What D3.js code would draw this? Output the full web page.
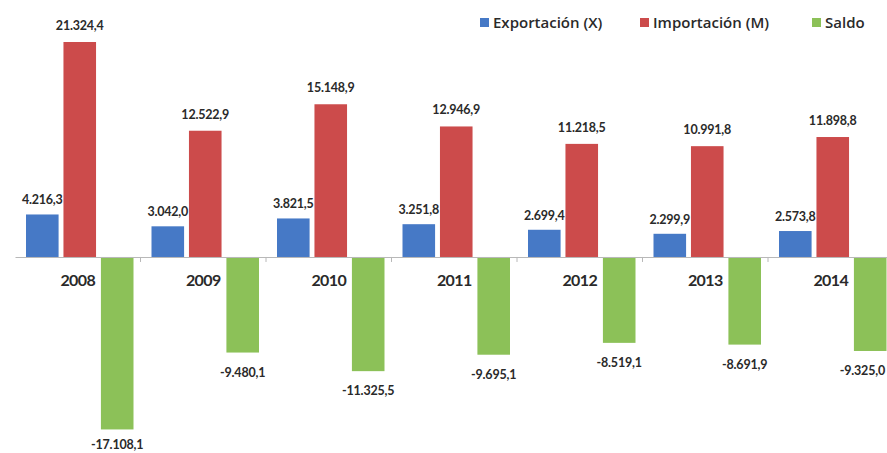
<!DOCTYPE html>
<html>
<head>
<meta charset="utf-8">
<script src="https://cdn.jsdelivr.net/npm/d3@7"></script>
<style>
  html, body { margin: 0; padding: 0; background: #fff; }
  svg { display: block; }
  text { font-family: Lato, "Open Sans", sans-serif; fill: #2a2a2a; }
</style>
</head>
<body>
<svg id="chart" width="887" height="453"></svg>
<script>
// Balanza comercial por año (millones)
const years = ["2008", "2009", "2010", "2011", "2012", "2013", "2014"];
const exportacion = [4216.3, 3042.0, 3821.5, 3251.8, 2699.4, 2299.9, 2573.8];
const importacion = [21324.4, 12522.9, 15148.9, 12946.9, 11218.5, 10991.8, 11898.8];
const saldo = [-17108.1, -9480.1, -11325.5, -9695.1, -8519.1, -8691.9, -9325.0];
const seriesNames = ["Exportación (X)", "Importación (M)", "Saldo"];
const seriesColors = ["#4679c6", "#cc4b4b", "#8cc158"];

const seriesValues = [exportacion, importacion, saldo];
const rows = years.map((yr, i) => ({
  year: yr,
  values: seriesValues.map((vals, s) => ({ s, v: vals[i] }))
}));

const W = 887;
const svg = d3.select("#chart");

// plot area extends slightly past the right edge
const x0 = d3.scaleBand().domain(years).range([15, 893.5]).paddingInner(0).paddingOuter(0);
const x1 = d3.scaleBand().domain([0, 1, 2]).range([11, x0.bandwidth() - 7]).paddingInner(0.13);
const y = d3.scaleLinear().domain([-20000, 25000]).range([458.6, 4.95]);

const fmt = v => {
  const s = Math.abs(v).toFixed(1).split(".");
  const int = s[0].replace(/\B(?=(\d{3})+(?!\d))/g, ".");
  return (v < 0 ? "-" : "") + int + "," + s[1];
};

const g = svg.append("g");

// bars
const groups = g.selectAll("g.cat").data(rows).join("g")
  .attr("class", "cat")
  .attr("transform", d => `translate(${x0(d.year)},0)`);

groups.selectAll("rect").data(d => d.values).join("rect")
  .attr("x", d => x1(d.s))
  .attr("width", x1.bandwidth())
  .attr("y", d => y(Math.max(0, d.v)))
  .attr("height", d => Math.abs(y(d.v) - y(0)))
  .attr("fill", d => seriesColors[d.s]);

// value labels (kept inside the drawing on the right)
groups.each(function (row) {
  const offset = x0(row.year);
  d3.select(this).selectAll("text.val").data(row.values).join("text")
    .attr("class", "val")
    .attr("y", d => d.v >= 0 ? y(d.v) - (d.s === 1 ? 12 : 10) : Math.min(y(d.v) + 24, 449))
    .attr("text-anchor", "middle")
    .attr("font-size", 12.5)
    .attr("font-weight", 700)
    .attr("letter-spacing", -0.2)
    .text(d => fmt(d.v))
    .attr("x", function (d) {
      const cx = x1(d.s) + x1.bandwidth() / 2;
      const half = this.getComputedTextLength() / 2;
      return Math.min(cx, W - 2 - offset - half);
    });
});

// category axis at zero
const axis = d3.axisBottom(x0).tickSize(0).tickPadding(0);
const ax = g.append("g").attr("transform", `translate(0,${y(0)})`).call(axis);
ax.select(".domain").attr("stroke", "#b8b8b8").attr("stroke-width", 1.2);
ax.selectAll(".tick text")
  .attr("y", 18)
  .attr("font-size", 16)
  .attr("font-weight", 700)
  .attr("letter-spacing", -0.6)
  .attr("fill", "#333")
  .style("font-family", "Lato, sans-serif");

// tick marks between categories
g.append("g").selectAll("line").data(years.slice(1)).join("line")
  .attr("x1", d => x0(d)).attr("x2", d => x0(d))
  .attr("y1", y(0)).attr("y2", y(0) + 5)
  .attr("stroke", "#b8b8b8").attr("stroke-width", 1);

// legend
const legendX = [480, 640, 812];
const lg = svg.append("g").selectAll("g").data(seriesNames).join("g")
  .attr("transform", (d, i) => `translate(${legendX[i]},17)`);
lg.append("rect").attr("width", 9).attr("height", 9).attr("y", 1)
  .attr("fill", (d, i) => seriesColors[i]);
lg.append("text").attr("x", 13).attr("y", 10.5)
  .attr("font-size", 15).attr("font-weight", 600)
  .attr("fill", "#333")
  .style("font-family", "'Open Sans', sans-serif")
  .text(d => d);
</script>
</body>
</html>
